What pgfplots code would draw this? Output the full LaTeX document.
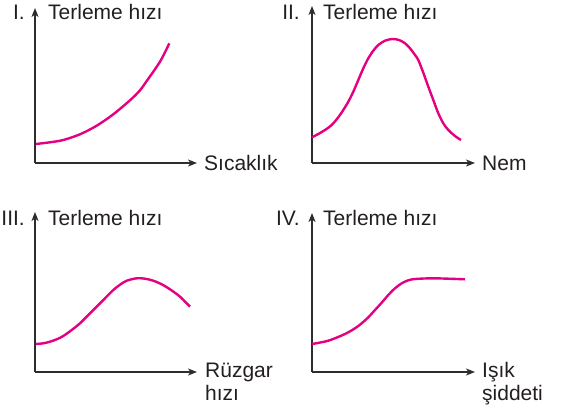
\documentclass[border=0pt]{standalone}
\usepackage{pgfplots}
\pgfplotsset{compat=1.18}
\usepackage{fontspec}
\setmainfont{Liberation Sans}
\usetikzlibrary{arrows.meta}
\definecolor{curvecol}{RGB}{228,0,128}
\definecolor{ink}{RGB}{35,31,32}
\definecolor{axiscol}{RGB}{45,45,45}
\pgfplotsset{
  panel/.style={
    scale only axis, clip=false,
    axis lines=left, xtick=\empty, ytick=\empty,
    xmin=0, ymin=0, anchor=origin,
    axis line style={axiscol, line width=1.3pt, -{Stealth[length=9pt,width=7pt,inset=2.5pt]}},
  },
}
\begin{document}
\begin{tikzpicture}[x=1pt,y=1pt,font=\fontsize{21}{24}\selectfont,every node/.style={text=ink,inner sep=0pt}]
\useasboundingbox (0,0) rectangle (562,413);
% Panel I
\begin{axis}[panel, at={(35pt,250pt)}, width=162pt, height=155pt, xmax=162, ymax=155]
\addplot[curvecol, line width=2.4pt, smooth, line join=round, mark=none] coordinates {(1,19) (15,20.7) (28.3,23) (45,28.7) (61.7,37.3) (78.3,48.7) (95,62.7) (105,72.7) (111.7,82) (118.3,91.3) (125,101.3) (130,110.7) (134.3,119.7)};
\end{axis}
\node[anchor=base east] at (25,393.5) {I.};
\node[anchor=base west] at (48,393.5) {Terleme hızı};
\node[anchor=base west] at (204,243) {Sıcaklık};
% Panel II
\begin{axis}[panel, at={(312pt,250pt)}, width=163pt, height=157pt, xmax=163, ymax=157]
\addplot[curvecol, line width=2.4pt, smooth, line join=round, mark=none] coordinates {(0,25.7) (6.3,29) (13,33) (19.7,38) (26.3,45.7) (31.3,53) (36.3,61.3) (41.3,71.3) (46.3,83) (51.3,94.7) (56.3,104.7) (61.3,112.3) (66.3,118) (73,122.3) (80.3,124) (87,123) (93,119.7) (98,114.7) (103,108) (106.3,103) (111.3,90.3) (116.3,76.3) (121.3,63) (126.3,49.7) (131.3,39.7) (136.3,33) (143,27) (149,23)};
\end{axis}
\node[anchor=base east] at (300,393.5) {II.};
\node[anchor=base west] at (323,393.5) {Terleme hızı};
\node[anchor=base west] at (482,243) {Nem};
% Panel III
\begin{axis}[panel, at={(35pt,41pt)}, width=162pt, height=160pt, xmax=162, ymax=160]
\addplot[curvecol, line width=2.4pt, smooth, line join=round, mark=none] coordinates {(1,28) (8.3,28.7) (15,30.3) (21.7,32.7) (28.3,36) (36.7,42) (45,48.7) (53.3,57) (61.7,65.3) (70,73.7) (78.3,82) (85,87.3) (91.7,91.3) (101.7,93.7) (110,93.3) (118.3,91.3) (126.7,87.7) (135,82.7) (145,75.3) (155,65.3)};
\end{axis}
\node[anchor=base east] at (25,188) {III.};
\node[anchor=base west] at (48,188) {Terleme hızı};
\node[anchor=base west] at (205,36) {Rüzgar};
\node[anchor=base west] at (205,13) {hızı};
% Panel IV
\begin{axis}[panel, at={(312pt,41pt)}, width=163pt, height=159pt, xmax=163, ymax=159]
\addplot[curvecol, line width=2.4pt, smooth, line join=round, mark=none] coordinates {(0,28) (16.3,31.3) (33,38) (43,43.7) (49.7,48.7) (56.3,54.7) (63,62) (69.7,69.3) (76.3,77) (83,83.7) (89.7,88.7) (96.3,91.7) (103,93) (119.7,93.7) (136.3,93.3) (153,92.7)};
\end{axis}
\node[anchor=base east] at (300,188) {IV.};
\node[anchor=base west] at (323,188) {Terleme hızı};
\node[anchor=base west] at (482,36) {Işık};
\node[anchor=base west] at (482,13) {şiddeti};
\end{tikzpicture}
\end{document}
